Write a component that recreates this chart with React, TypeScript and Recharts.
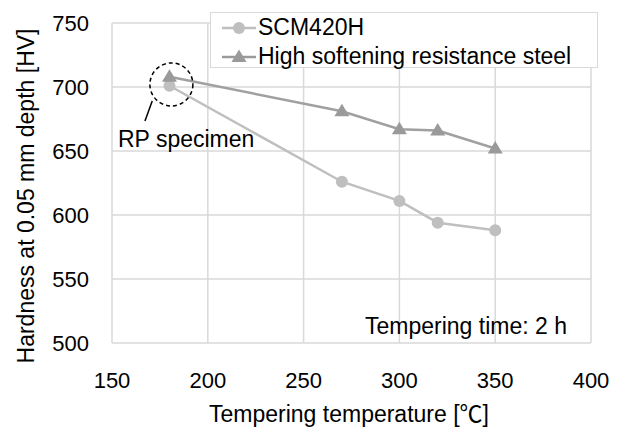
import React from 'react';
import { LineChart, Line, XAxis, YAxis, CartesianGrid, Legend, ReferenceDot, ReferenceLine, Customized } from 'recharts';

const temperatures = [180, 270, 300, 320, 350];
const scm420h = [701, 626, 611, 594, 588];
const highSoftening = [708, 681, 667, 666, 652];
const xTicks = [150, 200, 250, 300, 350, 400];
const yTicks = [500, 550, 600, 650, 700, 750];

const seriesNames = ['SCM420H', 'High softening resistance steel'];
const colors = ['#bfbfbf', '#9a9a9a'];

const data = temperatures.map((t, i) => ({ t, a: scm420h[i], b: highSoftening[i] }));

const FONT = 'Liberation Sans, Arial, sans-serif';

const Triangle = (props: any) => {
  const { cx, cy } = props;
  if (cx == null || cy == null) return null;
  return <path d={`M${cx},${cy - 7.5} L${cx + 7.5},${cy + 5} L${cx - 7.5},${cy + 5} Z`} fill={colors[1]} />;
};

const LegendContent = () => (
  <div style={{ width: 386, height: 54, background: '#fff', border: '1px solid #d9d9d9', fontFamily: FONT, fontSize: 23, color: '#000' }}>
    {seriesNames.map((n, i) => (
      <div key={n} style={{ display: 'flex', alignItems: 'center', height: 27, marginTop: i === 0 ? 1 : 2, whiteSpace: 'nowrap' }}>
        <svg width={48} height={20} style={{ flex: 'none' }}>
          <line x1={11} x2={45} y1={10} y2={10} stroke={colors[i]} strokeWidth={2.5} />
          {i === 0 ? (
            <circle cx={28} cy={10} r={6} fill={colors[0]} />
          ) : (
            <path d="M28,2.5 L35.5,15 L20.5,15 Z" fill={colors[1]} />
          )}
        </svg>
        <span style={{ marginLeft: -1, lineHeight: '27px' }}>{n}</span>
      </div>
    ))}
  </div>
);

const Texts = () => (
  <g fontFamily={FONT} fontSize={23} fill="#000">
    <text x={34} y={196} textAnchor="middle" transform="rotate(-90, 34, 196)">Hardness at 0.05 mm depth [HV]</text>
    <text x={349} y={422} textAnchor="middle">
      Tempering temperature [<tspan fontFamily="Noto Sans CJK JP">℃</tspan>]
    </text>
    <text x={118} y={147}>RP specimen</text>
    <text x={365} y={334}>Tempering time: 2 h</text>
  </g>
);

export default function App() {
  return (
    <div style={{ position: 'absolute', left: 0, top: 0, background: '#fff' }}>
      <LineChart width={625} height={433} data={data} margin={{ top: 23, right: 34, bottom: 0, left: 0 }}>
        <CartesianGrid stroke="#d9d9d9" strokeWidth={1.5} />
        <XAxis
          dataKey="t"
          type="number"
          domain={[150, 400]}
          ticks={xTicks}
          axisLine={false}
          tickLine={false}
          tickSize={0}
          tickMargin={29}
          height={90}
          tick={{ fill: '#000', fontSize: 22, fontFamily: FONT }}
        />
        <YAxis
          type="number"
          domain={[500, 750]}
          ticks={yTicks}
          axisLine={false}
          tickLine={false}
          tickSize={0}
          tickMargin={23}
          width={112}
          tick={{ fill: '#000', fontSize: 22, fontFamily: FONT }}
        />
        <Legend verticalAlign="middle" align="center" layout="horizontal" content={<LegendContent />} wrapperStyle={{ left: 210, top: 12, width: 388, height: 56 }} />
        <Line dataKey="a" name={seriesNames[0]} stroke={colors[0]} strokeWidth={2.5} dot={{ r: 6, fill: colors[0], stroke: 'none' }} isAnimationActive={false} />
        <Line dataKey="b" name={seriesNames[1]} stroke="#a0a0a0" strokeWidth={2.5} dot={<Triangle />} isAnimationActive={false} />
        <ReferenceDot x={181} y={702} r={21.5} fill="none" stroke="#000" strokeWidth={1.5} strokeDasharray="4 3" />
        <ReferenceLine segment={[{ x: 171, y: 689 }, { x: 167.2, y: 673.4 }]} stroke="#000" strokeWidth={1.5} />
        <Customized component={<Texts />} />
      </LineChart>
    </div>
  );
}
